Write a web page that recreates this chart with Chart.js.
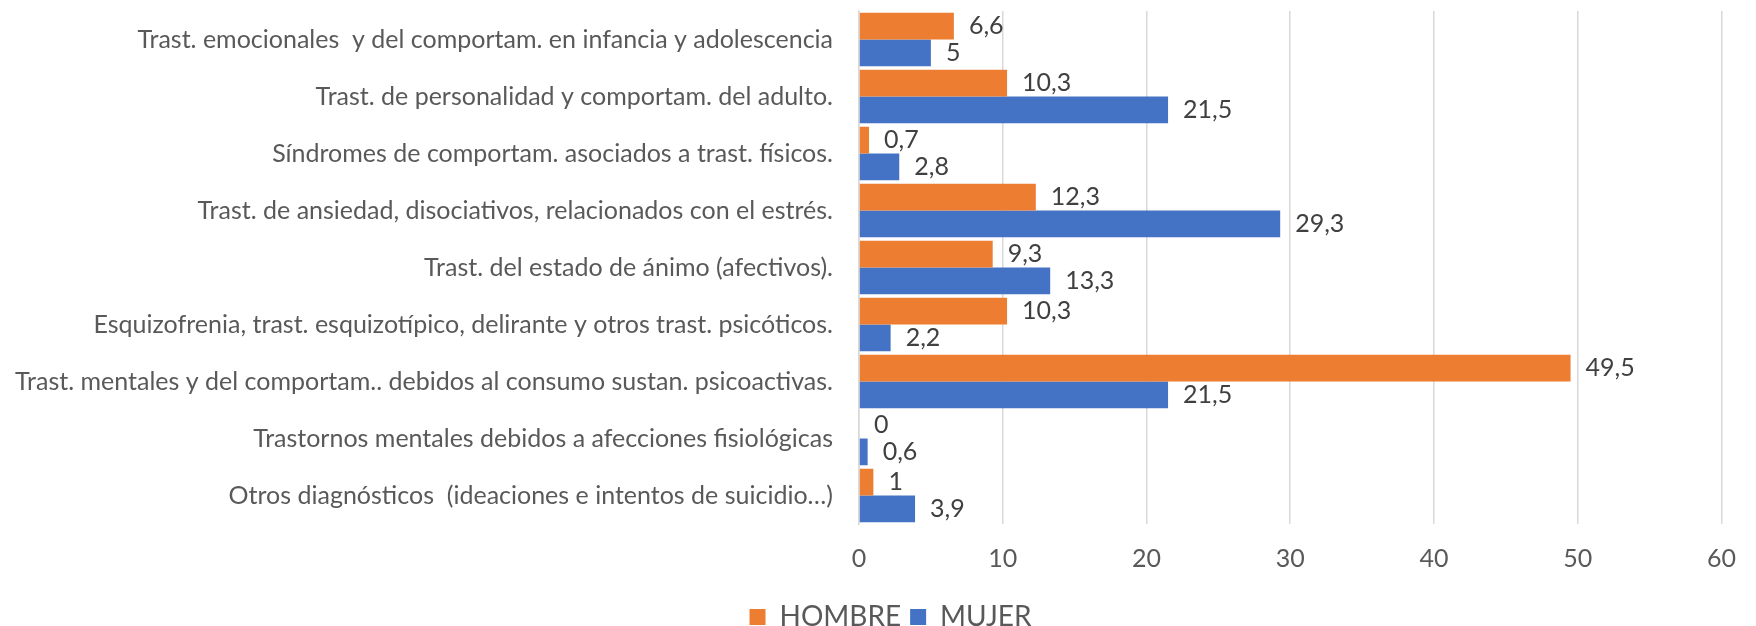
<!DOCTYPE html>
<html>
<head>
<meta charset="utf-8">
<script src="https://cdn.jsdelivr.net/npm/chart.js@4.4.1/dist/chart.umd.min.js"></script>
<style>
  html, body { margin: 0; padding: 0; background: #fff; }
  #wrap { width: 1756px; height: 626px; }
</style>
</head>
<body>
<div id="wrap"><canvas id="chart" width="1756" height="626"></canvas></div>
<script>
// categories, top to bottom
const categories = [
    'Trast. emocionales  y del comportam. en infancia y adolescencia',
    'Trast. de personalidad y comportam. del adulto.',
    'Síndromes de comportam. asociados a trast. físicos.',
    'Trast. de ansiedad, disociativos, relacionados con el estrés.',
    'Trast. del estado de ánimo (afectivos).',
    'Esquizofrenia, trast. esquizotípico, delirante y otros trast. psicóticos.',
    'Trast. mentales y del comportam.. debidos al consumo sustan. psicoactivas.',
    'Trastornos mentales debidos a afecciones fisiológicas',
    'Otros diagnósticos  (ideaciones e intentos de suicidio…)'
];
const hombre = [6.6, 10.3, 0.7, 12.3, 9.3, 10.3, 49.5, 0, 1];
const mujer = [5, 21.5, 2.8, 29.3, 13.3, 2.2, 21.5, 0.6, 3.9];
const xTicks = [0, 10, 20, 30, 40, 50, 60];

const FONT = 'Lato';
const fmt = v => String(v).replace('.', ',');

// value labels right of each bar
const valueLabels = {
    id: 'valueLabels',
    afterDatasetsDraw(chart) {
        const ctx = chart.ctx;
        ctx.save();
        ctx.font = '25px ' + FONT;
        ctx.fillStyle = '#404040';
        ctx.textAlign = 'left';
        ctx.textBaseline = 'middle';
        chart.data.datasets.forEach((ds, i) => {
            chart.getDatasetMeta(i).data.forEach((bar, j) => {
                ctx.fillText(fmt(ds.data[j]), bar.x + 15, bar.y);
            });
        });
        ctx.restore();
    }
};

// legend in the original sits a bit right of centre
const legendShift = {
    id: 'legendShift',
    afterLayout(chart) {
        chart.legend.left += 28;
        chart.legend.right += 28;
    }
};

new Chart(document.getElementById('chart'), {
    type: 'bar',
    data: {
        labels: categories,
        datasets: [
            { label: 'HOMBRE', data: hombre, backgroundColor: '#ED7D31' },
            { label: 'MUJER', data: mujer, backgroundColor: '#4472C4' }
        ]
    },
    options: {
        indexAxis: 'y',
        responsive: false,
        animation: false,
        categoryPercentage: 0.94,
        barPercentage: 1,
        layout: { padding: { top: 11, right: 31, left: 0, bottom: -15 } },
        scales: {
            x: {
                min: 0, max: 60,
                afterBuildTicks: s => { s.ticks = xTicks.map(v => ({ value: v })); },
                ticks: { color: '#595959', font: { family: FONT, size: 25 }, padding: 20 },
                grid: { color: '#d9d9d9', lineWidth: 1.5, drawTicks: false },
                border: { display: false },
                afterFit: s => { s.height = 70; }
            },
            y: {
                ticks: { color: '#595959', font: { family: FONT, size: 25 }, padding: 26, autoSkip: false },
                grid: { display: false, drawTicks: false },
                border: { display: true, color: '#d9d9d9', width: 1.5 },
                afterFit: s => { s.width = 859; s.paddingTop = 0; s.paddingBottom = 0; }
            }
        },
        plugins: {
            legend: {
                position: 'bottom',
                labels: { boxWidth: 16, boxHeight: 16, color: '#595959', font: { family: FONT, size: 28 }, padding: 9 }
            },
            tooltip: { enabled: false }
        }
    },
    plugins: [valueLabels, legendShift]
});
</script>
</body>
</html>
